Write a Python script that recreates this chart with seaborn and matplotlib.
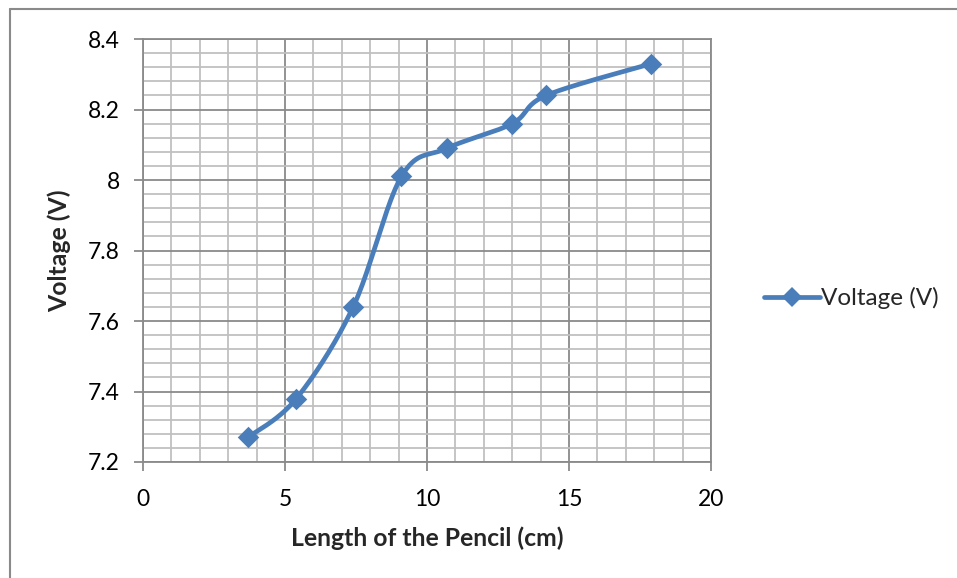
import numpy as np
import matplotlib
matplotlib.use("Agg")
import matplotlib.pyplot as plt
import seaborn as sns
import pandas as pd
from matplotlib.lines import Line2D

# Data
length_cm = [3.7, 5.4, 7.4, 9.1, 10.7, 13.0, 14.2, 17.9]
voltage_v = [7.27, 7.38, 7.64, 8.01, 8.09, 8.16, 8.24, 8.33]
x_ticks = [0, 5, 10, 15, 20]
y_ticks = [7.2, 7.4, 7.6, 7.8, 8.0, 8.2, 8.4]
y_tick_labels = ["7.2", "7.4", "7.6", "7.8", "8", "8.2", "8.4"]
series_name = "Voltage (V)"
x_label = "Length of the Pencil (cm)"
y_label = "Voltage (V)"

BLUE = "#4a7ebb"


def excel_smooth(xs, ys, n=40):
    """Cardinal (Catmull-Rom style) Bezier smoothing like Excel's smoothed line."""
    xs = np.asarray(xs, float)
    ys = np.asarray(ys, float)
    px = np.concatenate([[xs[0]], xs, [xs[-1]]])
    py = np.concatenate([[ys[0]], ys, [ys[-1]]])
    out_x, out_y = [], []
    t = np.linspace(0, 1, n)
    for i in range(1, len(px) - 2):
        p0 = np.array([px[i - 1], py[i - 1]])
        p1 = np.array([px[i], py[i]])
        p2 = np.array([px[i + 1], py[i + 1]])
        p3 = np.array([px[i + 2], py[i + 2]])
        c1 = p1 + (p2 - p0) / 6.0
        c2 = p2 - (p3 - p1) / 6.0
        b = ((1 - t) ** 3)[:, None] * p1 + (3 * (1 - t) ** 2 * t)[:, None] * c1 \
            + (3 * (1 - t) * t ** 2)[:, None] * c2 + (t ** 3)[:, None] * p2
        out_x.extend(b[:, 0])
        out_y.extend(b[:, 1])
    return np.array(out_x), np.array(out_y)


sns.set_theme(style="white")
plt.rcParams["font.family"] = ["Lato", "DejaVu Sans"]

fig = plt.figure(figsize=(9.57, 5.78), dpi=100)
W, H = 957, 578
ax = fig.add_axes([143 / W, 1 - 462 / H, (711 - 143) / W, (462 - 39) / H])

sx, sy = excel_smooth(length_cm, voltage_v)
curve = pd.DataFrame({"x": sx, "y": sy, "order": np.arange(len(sx))})
pts = pd.DataFrame({"x": length_cm, "y": voltage_v})

sns.lineplot(data=curve, x="x", y="y", sort=False, estimator=None, ax=ax,
             color=BLUE, linewidth=3.4, zorder=3, legend=False)
sns.scatterplot(data=pts, x="x", y="y", ax=ax, marker="D", s=120,
                color=BLUE, edgecolor=BLUE, linewidth=0, zorder=4, legend=False)

ax.set_xlim(0, 20)
ax.set_ylim(7.2, 8.4)
ax.set_xticks(x_ticks)
ax.set_xticklabels([str(v) for v in x_ticks])
ax.set_yticks(y_ticks)
ax.set_yticklabels(y_tick_labels)
ax.set_xticks(np.arange(0, 20.01, 1), minor=True)
ax.set_yticks(np.arange(7.2, 8.401, 0.04), minor=True)

ax.grid(which="minor", color="#c0c0c0", linewidth=1.3, zorder=0)
ax.grid(which="major", color="#8a8a8a", linewidth=1.3, zorder=1)
ax.set_axisbelow(True)

for s in ax.spines.values():
    s.set_color("#8a8a8a")
    s.set_linewidth(1.3)

ax.tick_params(which="major", direction="out", length=6.5, width=1.3,
               color="#8a8a8a", labelsize=16.5, labelcolor="black", pad=10,
               bottom=True, left=True)
ax.tick_params(which="minor", length=0)
ax.tick_params(axis="x", pad=13)

ax.set_xlabel(x_label, fontsize=17.8, fontweight="bold", labelpad=12)
ax.set_ylabel(y_label, fontsize=17.8, fontweight="bold", labelpad=12)

handle = Line2D([0], [0], color=BLUE, linewidth=3.4, marker="D",
                markersize=10.5, markeredgewidth=0)
fig.legend([handle], [series_name], loc="center left",
           bbox_to_anchor=(764 / W, 1 - 298 / H), frameon=False,
           fontsize=17.5, handlelength=2.3, handletextpad=0.05, borderaxespad=0,
           borderpad=0)

# Chart area border (left and top visible)
fig.add_artist(Line2D([10 / W, 10 / W], [0, 1 - 9 / H], transform=fig.transFigure,
                      color="#8a8a8a", linewidth=1.5))
fig.add_artist(Line2D([10 / W, 1], [1 - 9 / H, 1 - 9 / H], transform=fig.transFigure,
                      color="#8a8a8a", linewidth=1.5))

fig.savefig("out.png", dpi=100)
